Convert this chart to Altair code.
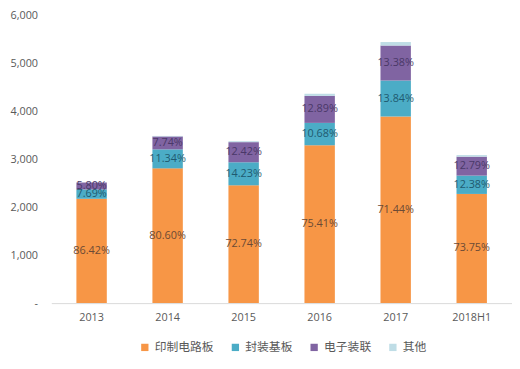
import altair as alt
import pandas as pd

years = ["2013", "2014", "2015", "2016", "2017", "2018H1"]
series = ["印制电路板", "封装基板", "电子装联", "其他"]
pcb = [2178, 2813, 2459, 3295, 3893, 2279]
pkg = [194, 396, 481, 467, 754, 383]
ems = [146, 270, 420, 563, 729, 395]
other = [2, 11, 20, 45, 74, 33]
pcb_pct = ["86.42%", "80.60%", "72.74%", "75.41%", "71.44%", "73.75%"]
pkg_pct = ["7.69%", "11.34%", "14.23%", "10.68%", "13.84%", "12.38%"]
ems_pct = ["5.80%", "7.74%", "12.42%", "12.89%", "13.38%", "12.79%"]
other_pct = ["", "", "", "", "", ""]
colors = ["#F79646", "#4BACC6", "#8064A2", "#BFDDE6"]
label_colors = ["#6b4a35", "#1f5a70", "#4a3868", "#333333"]

rows = []
for s_i, (name, vals, labs) in enumerate(zip(series, [pcb, pkg, ems, other], [pcb_pct, pkg_pct, ems_pct, other_pct])):
    for y, v, l in zip(years, vals, labs):
        rows.append({"year": y, "series": name, "value": v, "label": l, "order": s_i})
df = pd.DataFrame(rows)

base = alt.Chart(df).transform_stack(
    stack="value", groupby=["year"], as_=["start", "end"], sort=[alt.SortField("order", "ascending")]
).transform_calculate(mid="(datum.start + datum.end) / 2")

xenc = alt.X("year:N", sort=years, title=None,
             scale=alt.Scale(paddingInner=0.6, paddingOuter=0.33),
             axis=alt.Axis(labelAngle=0, ticks=False, domainColor="#d9d9d9", labelColor="#595959",
                           labelFontSize=11, labelFont="Open Sans", labelPadding=9))

bars = base.mark_bar().encode(
    x=xenc,
    y=alt.Y("start:Q", title=None, scale=alt.Scale(domain=[0, 6000]),
            axis=alt.Axis(values=[0, 1000, 2000, 3000, 4000, 5000, 6000], grid=False, domain=False, ticks=False,
                          labelColor="#595959", labelFontSize=11, labelFont="Open Sans", labelPadding=14,
                          labelExpr="datum.value == 0 ? '-' : format(datum.value, ',')")),
    y2="end:Q",
    color=alt.Color("series:N", sort=series, scale=alt.Scale(domain=series, range=colors),
                    legend=alt.Legend(title=None, orient="none", legendX=89, legendY=331,
                                      direction="horizontal", symbolType="square",
                                      symbolSize=55, labelFont="Noto Sans CJK SC", labelFontSize=12,
                                      labelColor="#595959", columnPadding=15, symbolStrokeWidth=0,
                                      labelOffset=4)),
    order=alt.Order("order:Q"),
)

texts = base.mark_text(fontSize=11, font="Open Sans").encode(
    x=alt.X("year:N", sort=years),
    y=alt.Y("mid:Q"),
    text="label:N",
    color=alt.Color("series:N", scale=alt.Scale(domain=series, range=label_colors), legend=None),
)

chart = alt.layer(bars, texts).resolve_scale(color="independent").properties(
    width=468, height=292,
    autosize=alt.AutoSizeParams(type="none"),
    padding={"left": 44, "top": 5, "right": 0, "bottom": 56},
).configure_view(stroke=None)

chart.save("out.html", embed_options={"renderer": "svg", "actions": False})
